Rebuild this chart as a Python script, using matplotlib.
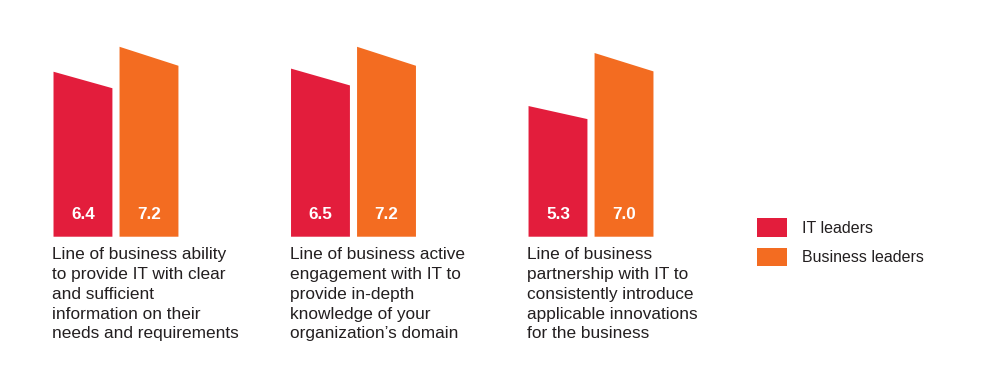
import matplotlib.pyplot as plt
from matplotlib.patches import Patch, Polygon
from matplotlib.transforms import blended_transform_factory

plt.rcParams['font.family'] = ['Liberation Sans', 'DejaVu Sans']

categories = [
    "Line of business ability\nto provide IT with clear\nand sufficient\n"
    "information on their\nneeds and requirements",
    "Line of business active\nengagement with IT to\nprovide in-depth\n"
    "knowledge of your\norganization\u2019s domain",
    "Line of business\npartnership with IT to\nconsistently introduce\n"
    "applicable innovations\nfor the business",
]
series_names = ["IT leaders", "Business leaders"]
it_leaders = [6.4, 6.5, 5.3]
business_leaders = [7.2, 7.2, 7.0]

RED = "#E31D3C"
ORANGE = "#F36C21"
BASE = 1.11          # value at the bar foot
SLANT = 0.9          # right edge height relative to left edge
BAR_W = 0.248
GAP = 0.03

fig = plt.figure(figsize=(10, 3.81), dpi=100)
ax = fig.add_axes([0, 0.3787, 1, 0.6213])
ax.set_xlim(-0.2253, 3.985)
ax.set_ylim(BASE, 8.70)
ax.axis("off")

trans = blended_transform_factory(ax.transData, fig.transFigure)
for i, cat in enumerate(categories):
    for j, (vals, color) in enumerate([(it_leaders, RED), (business_leaders, ORANGE)]):
        v = vals[i]
        x0 = i + j * (BAR_W + GAP)
        x1 = x0 + BAR_W
        top_r = BASE + SLANT * (v - BASE)
        ax.add_patch(Polygon([(x0, BASE), (x0, v), (x1, top_r), (x1, BASE)],
                             closed=True, facecolor=color, edgecolor="none"))
        ax.annotate(f"{v:.1f}", xy=((x0 + x1) / 2, BASE), xytext=(0, 13.0),
                    textcoords="offset points", ha="center", va="baseline",
                    color="white", fontsize=12.3, fontweight="bold")
    ax.text(i - 0.005, 0.351, cat, transform=trans, ha="left", va="top",
            fontsize=12.4, color="#231F20", linespacing=1.40)

handles = [Patch(facecolor=RED, edgecolor="none"),
           Patch(facecolor=ORANGE, edgecolor="none")]
fig.legend(handles, series_names, loc="upper left",
           bbox_to_anchor=(0.757, 1 - 218 / 381), frameon=False,
           fontsize=11.5, handlelength=1.87, handleheight=1.42,
           handletextpad=0.92, labelspacing=0.7, borderpad=0,
           borderaxespad=0, labelcolor="#231F20")

fig.savefig("out.png", dpi=100, facecolor="white")
